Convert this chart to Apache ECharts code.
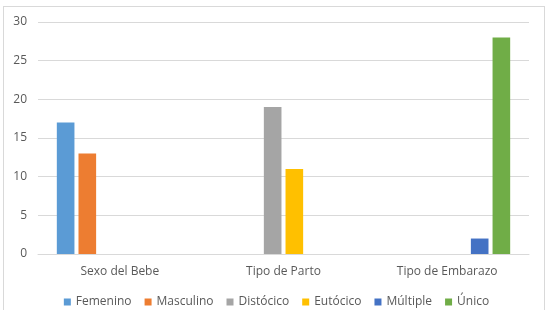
<!DOCTYPE html>
<html><head><meta charset="utf-8">
<style>
html,body{margin:0;padding:0;background:#fff;}
#frame{position:absolute;left:3px;top:6px;width:542px;height:310px;border:1px solid #d9d9d9;box-sizing:border-box;}
#c{position:absolute;left:0;top:0;width:553px;height:310px;}
</style>
<script src="https://cdn.jsdelivr.net/npm/echarts@6/dist/echarts.min.js"></script>
</head><body>
<div id="frame"></div>
<div id="c"></div>
<script>
const categories = ['Sexo del Bebe', 'Tipo de Parto', 'Tipo de Embarazo'];
const seriesNames = ['Femenino', 'Masculino', 'Distócico', 'Eutócico', 'Múltiple', 'Único'];
const femenino = [17, 0, 0];
const masculino = [13, 0, 0];
const distocico = [0, 19, 0];
const eutocico = [0, 11, 0];
const multiple = [0, 0, 2];
const unico = [0, 0, 28];
const yTicks = [0, 5, 10, 15, 20, 25, 30];
const colors = ['#5B9BD5', '#ED7D31', '#A5A5A5', '#FFC000', '#4472C4', '#70AD47'];
const values = [femenino, masculino, distocico, eutocico, multiple, unico];

const chart = echarts.init(document.getElementById('c'));
const font = 'Open Sans';
chart.setOption({
  animation: false,
  color: colors,
  textStyle: {fontFamily: font},
  grid: {left: 38, right: 24, top: 22, bottom: 56},
  legend: {
    top: 296,
    left: 'center',
    padding: 0,
    itemWidth: 7, itemHeight: 7, itemGap: 13,
    icon: 'rect',
    textStyle: {color: '#595959', fontSize: 12, fontFamily: font},
    data: seriesNames
  },
  xAxis: {
    type: 'category',
    data: categories,
    axisLine: {show: true, lineStyle: {color: '#d9d9d9'}},
    axisTick: {show: false},
    axisLabel: {color: '#595959', fontSize: 12, margin: 12, fontFamily: font}
  },
  yAxis: {
    type: 'value',
    min: yTicks[0], max: yTicks[yTicks.length - 1], interval: 5,
    axisLine: {show: false},
    axisTick: {show: false},
    splitLine: {lineStyle: {color: '#d9d9d9'}},
    axisLabel: {color: '#595959', fontSize: 12, margin: 11, fontFamily: font}
  },
  series: seriesNames.map((n, i) => ({
    name: n,
    type: 'bar',
    data: values[i],
    barGap: '23%',
    barCategoryGap: '23%'
  }))
});
</script>
</body></html>
